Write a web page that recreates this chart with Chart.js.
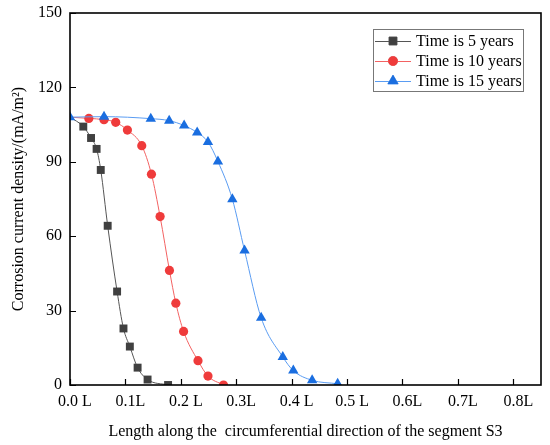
<!DOCTYPE html>
<html>
<head>
<meta charset="utf-8">
<script src="https://cdn.jsdelivr.net/npm/chart.js@4/dist/chart.umd.min.js"></script>
<style>
html,body{margin:0;padding:0;background:#fff;}
#wrap{width:550px;height:445px;}
</style>
</head>
<body>
<div id="wrap"><canvas id="c" width="550" height="445"></canvas></div>
<script>
const seriesLabels = ["Time is 5 years", "Time is 10 years", "Time is 15 years"];
const x5  = [0, 0.024, 0.038, 0.048, 0.0555, 0.068, 0.085, 0.0965, 0.108, 0.122, 0.140, 0.177];
const y5  = [108, 104.2, 99.6, 95.2, 86.7, 64.2, 37.7, 22.8, 15.5, 7.0, 2.2, 0];
const x10 = [0, 0.034, 0.0614, 0.0825, 0.1036, 0.1295, 0.147, 0.1626, 0.1795, 0.191, 0.205, 0.231, 0.249, 0.277];
const y10 = [108, 107.5, 107.0, 105.9, 102.8, 96.5, 85.0, 67.9, 46.2, 33.0, 21.6, 9.8, 3.6, 0];
const x15 = [0, 0.0614, 0.1458, 0.179, 0.206, 0.2295, 0.249, 0.267, 0.293, 0.315, 0.345, 0.384, 0.403, 0.437, 0.483];
const y15 = [108.0, 108.2, 107.4, 106.6, 104.6, 101.8, 98.0, 90.1, 74.9, 54.2, 27.1, 11.3, 5.8, 1.9, 0.5];
const xTickValues = [0, 0.1, 0.2, 0.3, 0.4, 0.5, 0.6, 0.7, 0.8];
const xTickLabels = ["0.0 L", "0.1L", "0.2 L", "0.3L", "0.4 L", "0.5 L", "0.6L", "0.7L", "0.8L"];
const yTickValues = [0, 30, 60, 90, 120, 150];

const FONT = "'Liberation Serif','Times New Roman',serif";
const markerR = [5.6, 4.6, 6];

function pts(xs, ys){ return xs.map((x,i)=>({x:x, y:ys[i]})); }

const frameTicks = {
  id: 'frameTicks',
  afterDatasetsDraw(chart){
    const {ctx, chartArea:a, scales:{x, y}} = chart;
    ctx.save();
    ctx.strokeStyle = '#000';
    ctx.lineWidth = 1.2;
    ctx.beginPath();
    xTickValues.forEach(v=>{
      const px = Math.round(x.getPixelForValue(v)) + 0.5;
      ctx.moveTo(px, a.bottom); ctx.lineTo(px, a.bottom - 6);
    });
    yTickValues.forEach(v=>{
      const py = Math.round(y.getPixelForValue(v)) + 0.5;
      ctx.moveTo(a.left, py); ctx.lineTo(a.left + 6, py);
    });
    ctx.stroke();
    ctx.lineWidth = 1.6;
    ctx.strokeRect(a.left, a.top, a.right - a.left, a.bottom - a.top);
    ctx.restore();
  },
  afterDraw(chart){
    const ctx = chart.ctx;
    const bx = 373, by = 29, bw = 150, bh = 62;
    ctx.save();
    ctx.fillStyle = '#fff';
    ctx.fillRect(bx, by, bw, bh);
    ctx.strokeStyle = '#777';
    ctx.lineWidth = 1;
    ctx.strokeRect(bx + 0.5, by + 0.5, bw, bh);
    chart.data.datasets.forEach((ds, i)=>{
      const yy = 41 + i * 20;
      ctx.strokeStyle = ds.borderColor;
      ctx.lineWidth = 1;
      ctx.beginPath();
      ctx.moveTo(375, yy + 0.5); ctx.lineTo(411, yy + 0.5);
      ctx.stroke();
      Chart.helpers.drawPoint(ctx, {
        pointStyle: ds.pointStyle, radius: markerR[i], rotation: 0, borderWidth: 1
      }, 393, yy);
      ctx.fillStyle = ds.pointBackgroundColor;
      ctx.strokeStyle = ds.pointBorderColor;
      ctx.fill();
      ctx.fillStyle = '#000';
      ctx.font = "16px " + FONT;
      ctx.textBaseline = 'middle';
      ctx.textAlign = 'left';
      ctx.fillText(ds.label, 416, yy + 1);
    });
    ctx.restore();
  }
};

new Chart(document.getElementById('c'), {
  type: 'scatter',
  data: {
    datasets: [
      { label: seriesLabels[0], data: pts(x5, y5), showLine: true, order: 2,
        borderColor: '#555555', borderWidth: 1,
        pointStyle: 'rect', pointRadius: c => c.dataIndex === 0 ? 0 : markerR[0], pointBackgroundColor: '#404040', pointBorderColor: '#404040', pointBorderWidth: 0,
        cubicInterpolationMode: 'monotone', clip: 0 },
      { label: seriesLabels[1], data: pts(x10, y10), showLine: true, order: 1,
        borderColor: '#f36262', borderWidth: 1,
        pointStyle: 'circle', pointRadius: c => c.dataIndex === 0 ? 0 : markerR[1], pointBackgroundColor: '#ef3b3b', pointBorderColor: '#ef3b3b', pointBorderWidth: 0,
        cubicInterpolationMode: 'monotone', clip: 0 },
      { label: seriesLabels[2], data: pts(x15, y15), showLine: true, order: 0,
        borderColor: '#5a9cf2', borderWidth: 1,
        pointStyle: 'triangle', pointRadius: markerR[2], pointBackgroundColor: '#1a6ee0', pointBorderColor: '#1a6ee0', pointBorderWidth: 0,
        cubicInterpolationMode: 'monotone', clip: 0 }
    ]
  },
  options: {
    responsive: false,
    animation: false,
    devicePixelRatio: 1,
    layout: { padding: { left: 0, right: 9, top: 13, bottom: 0 } },
    plugins: { legend: { display: false }, tooltip: { enabled: false } },
    scales: {
      x: {
        type: 'linear', min: 0, max: 0.85,
        grid: { display: false, drawTicks: false },
        border: { display: false },
        afterBuildTicks(scale){ scale.ticks = xTickValues.map(v=>({value:v})); },
        afterFit(scale){ scale.height = 60; scale.paddingLeft = 0; scale.paddingRight = 0; },
        ticks: {
          padding: 7, labelOffset: 5, color: '#000', maxRotation: 0, autoSkip: false,
          font: { family: FONT, size: 16 },
          callback(v){ const i = xTickValues.findIndex(t=>Math.abs(t-v)<1e-9); return i>=0 ? xTickLabels[i] : ''; }
        },
        title: { display: true, text: 'Length along the  circumferential direction of the segment S3',
          color: '#000', font: { family: FONT, size: 16 }, padding: { top: 0, bottom: 4 } }
      },
      y: {
        type: 'linear', min: 0, max: 150,
        grid: { display: false, drawTicks: false },
        border: { display: false },
        afterBuildTicks(scale){ scale.ticks = yTickValues.map(v=>({value:v})); },
        afterFit(scale){ scale.width = 70; scale.paddingTop = 0; scale.paddingBottom = 0; },
        ticks: { padding: 8, color: '#000', font: { family: FONT, size: 16 } },
        title: { display: true, text: 'Corrosion current density/(mA/m\u00B2)',
          color: '#000', font: { family: FONT, size: 16 }, padding: { top: 9, bottom: 0 } }
      }
    }
  },
  plugins: [frameTicks]
});
</script>
</body>
</html>
